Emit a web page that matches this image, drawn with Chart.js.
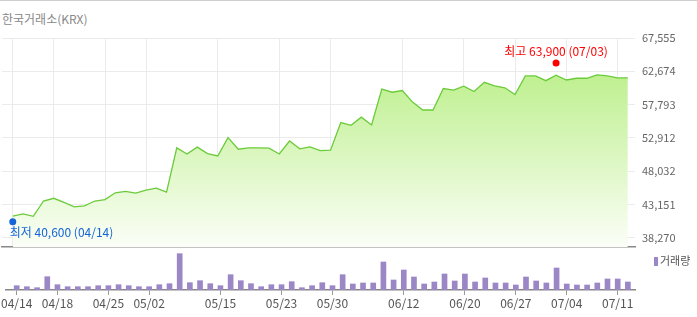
<!DOCTYPE html>
<html>
<head>
<meta charset="utf-8">
<script src="https://cdn.jsdelivr.net/npm/chart.js@4"></script>
<style>
  body { margin: 0; background: #fff; }
  #wrap { position: relative; width: 697px; height: 317px; overflow: hidden; border-top: 1px solid #cfcfcf; box-sizing: border-box; font-family: 'Noto Sans CJK KR', sans-serif; }
  #title { position: absolute; left: 2px; top: 9px; font-size: 12px; color: #888; }
  canvas { position: absolute; left: 0; top: -1px; }
  #legend { position: absolute; left: 654px; top: 251px; font-size: 11px; color: #555; }
  #legend i { display: inline-block; width: 4px; height: 9px; background: #9b86c6; margin-right: 2px; vertical-align: -1px; }
</style>
</head>
<body>
<div id="wrap">
  <div id="title">한국거래소(KRX)</div>
  <canvas id="price" width="697" height="317"></canvas>
  <canvas id="volume" width="697" height="317"></canvas>
  <div id="legend"><i></i>거래량</div>
</div>
<script>
// trading days 2025-04-14 .. 2025-07-14
const dates = ['04/14','04/15','04/16','04/17','04/18','04/21','04/22','04/23','04/24','04/25',
  '04/28','04/29','04/30','05/02','05/07','05/08','05/09','05/12','05/13','05/14',
  '05/15','05/16','05/19','05/20','05/21','05/22','05/23','05/26','05/27','05/28',
  '05/29','05/30','06/02','06/04','06/05','06/09','06/10','06/11','06/12','06/13',
  '06/16','06/17','06/18','06/19','06/20','06/23','06/24','06/25','06/26','06/27',
  '06/30','07/01','07/02','07/03','07/04','07/07','07/08','07/09','07/10','07/11','07/14'];

const closes = [41450,41750,41400,43650,44050,43450,42800,42950,43650,43850,
  44850,45050,44800,45250,45550,44950,51450,50550,51550,50600,
  50250,52950,51250,51450,51450,51400,50550,52450,51300,51600,
  51050,51100,55150,54750,55950,54800,60050,59600,59850,58150,
  57000,57000,60150,59900,60500,59700,61050,60550,60250,59250,
  62000,62000,61300,62100,61400,61650,61650,62150,62000,61700,61700];

// volume, thousand shares
const volumes = [430,330,230,1330,530,330,330,330,430,430,
  530,430,330,330,530,630,3630,730,930,630,
  430,1530,930,630,330,530,530,830,230,430,
  730,430,1530,600,700,700,2800,1000,2000,1300,
  600,800,1600,900,1600,800,1200,700,700,500,
  1300,900,700,2200,600,500,500,700,1100,1100,800];

const yTicks = [38270,43151,48032,52912,57793,62674,67555];
const dateTicks = [0,4,9,13,20,26,31,38,44,49,54,59];

const high = {i: 53, v: 63900};
const low = {i: 0, v: 40600};

Chart.defaults.font.family = "'Noto Sans CJK KR', sans-serif";

const xMin = -1.05, xMax = 60.7;
const fmt = v => v.toLocaleString('en-US');

const marks = {
  id: 'marks',
  afterDatasetsDraw(chart) {
    const ctx = chart.ctx, xs = chart.scales.x, ys = chart.scales.y;
    ctx.save();
    ctx.font = "12px 'Noto Sans CJK KR', sans-serif";
    ctx.textBaseline = 'middle';

    let x = xs.getPixelForValue(high.i), y = ys.getPixelForValue(high.v);
    ctx.fillStyle = '#f00';
    ctx.beginPath(); ctx.arc(x, y, 3.5, 0, Math.PI * 2); ctx.fill();
    ctx.textAlign = 'center';
    ctx.fillText('최고 ' + fmt(high.v) + ' (' + dates[high.i] + ')', x, y - 11);

    x = xs.getPixelForValue(low.i); y = ys.getPixelForValue(low.v);
    ctx.fillStyle = '#1565d8';
    ctx.beginPath(); ctx.arc(x, y, 3.5, 0, Math.PI * 2); ctx.fill();
    ctx.textAlign = 'left';
    ctx.fillText('최저 ' + fmt(low.v) + ' (' + dates[low.i] + ')', x - 3, y + 11);
    ctx.restore();
  }
};

new Chart(document.getElementById('price'), {
  type: 'line',
  data: {
    datasets: [{
      data: closes.map((v, i) => ({x: i, y: v})),
      borderColor: '#6bcb3a',
      borderWidth: 1.3,
      pointRadius: 0,
      tension: 0,
      fill: 'start',
      backgroundColor: c => {
        const a = c.chart.chartArea;
        if (!a) return 'rgba(0,0,0,0)';
        const g = c.chart.ctx.createLinearGradient(0, a.top, 0, a.bottom);
        g.addColorStop(0, '#b2ed7a');
        g.addColorStop(1, '#fbfef7');
        return g;
      }
    }]
  },
  options: {
    responsive: false,
    animation: false,
    layout: {padding: {left: 2, top: 38, bottom: 70, right: 0}},
    plugins: {legend: {display: false}, tooltip: {enabled: false}},
    scales: {
      x: {
        type: 'linear', min: xMin, max: xMax,
        afterBuildTicks: s => { s.ticks = dateTicks.map(v => ({value: v})); },
        ticks: {display: false},
        grid: {color: '#ebebeb', drawTicks: false},
        border: {color: '#888', width: 1.5},
        afterFit: s => { s.height = 0; }
      },
      y: {
        position: 'right',
        min: 36906, max: 67555,
        afterBuildTicks: s => { s.ticks = yTicks.map(v => ({value: v})); },
        ticks: {padding: 7, color: '#666', font: {size: 11}, callback: v => fmt(v)},
        grid: {color: '#ebebeb', drawTicks: false},
        border: {display: false},
        afterFit: s => { s.width = 62; }
      }
    }
  },
  plugins: [marks]
});

new Chart(document.getElementById('volume'), {
  type: 'bar',
  data: {
    datasets: [{
      data: volumes.map((v, i) => ({x: i, y: v})),
      backgroundColor: '#9b86c6',
      barThickness: 5
    }]
  },
  options: {
    responsive: false,
    animation: false,
    layout: {padding: {left: 2, top: 248, bottom: 0, right: 62}},
    plugins: {legend: {display: false}, tooltip: {enabled: false}},
    scales: {
      x: {
        type: 'linear', min: xMin, max: xMax, offset: false,
        afterBuildTicks: s => { s.ticks = dateTicks.map(v => ({value: v})); },
        ticks: {color: '#555', font: {size: 12}, padding: 1, autoSkip: false, maxRotation: 0, callback: v => dates[v]},
        grid: {drawOnChartArea: false, offset: false, tickLength: 5, color: '#999'},
        border: {color: '#888', width: 1.5},
        afterFit: s => { s.height = 27; }
      },
      y: {display: false, min: 0, max: 4200}
    }
  }
});
</script>
</body>
</html>
